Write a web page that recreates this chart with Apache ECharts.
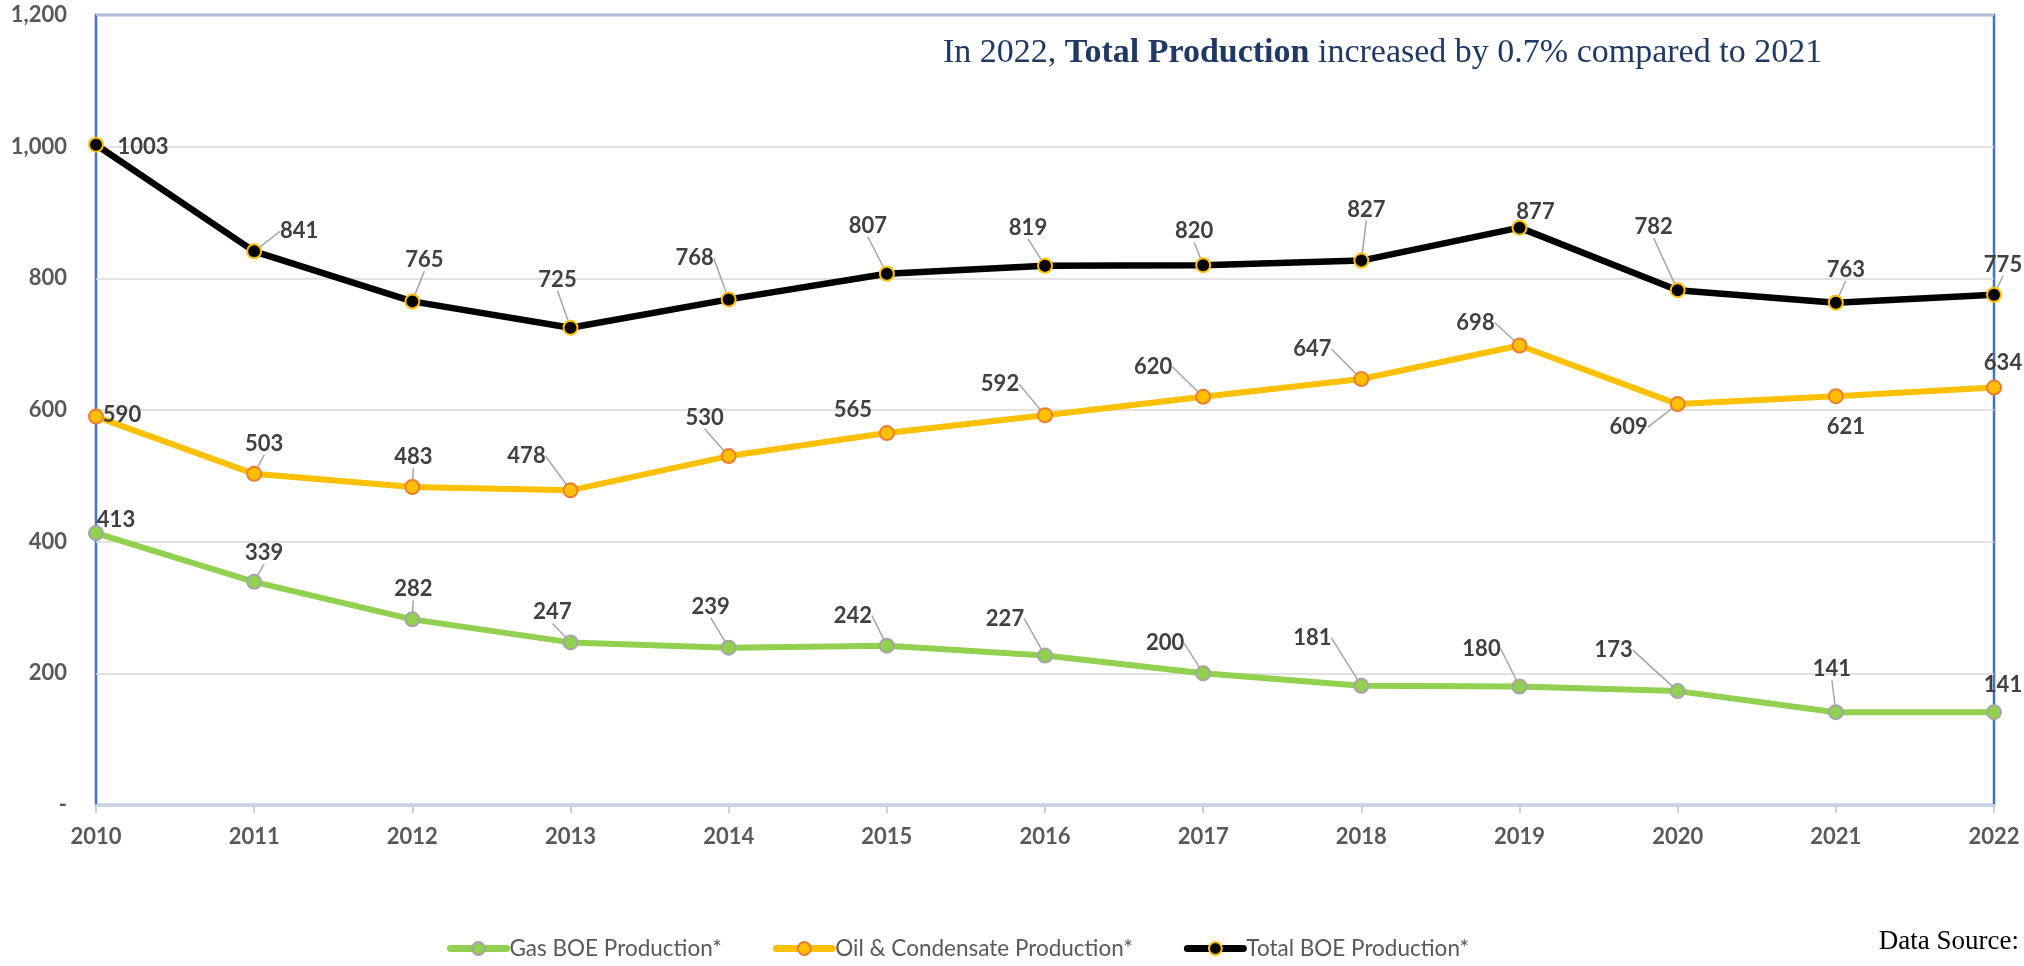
<!DOCTYPE html>
<html>
<head>
<meta charset="utf-8">
<script src="https://cdn.jsdelivr.net/npm/echarts@6/dist/echarts.min.js"></script>
<style>
  html, body { margin: 0; padding: 0; background: #fff; }
  #chart { width: 2024px; height: 966px; }
</style>
</head>
<body>
<div id="chart"></div>
<script>
// ---- data ----
const years = ['2010','2011','2012','2013','2014','2015','2016','2017','2018','2019','2020','2021','2022'];
const gasBOE = [413, 339, 282, 247, 239, 242, 227, 200, 181, 180, 173, 141, 141];
const oilCondensate = [590, 503, 483, 478, 530, 565, 592, 620, 647, 698, 609, 621, 634];
const totalBOE = [1003, 841, 765, 725, 768, 807, 819, 820, 827, 877, 782, 763, 775];
const yTicks = [0, 200, 400, 600, 800, 1000, 1200];

// ---- label placement (pixel offsets of each data label from its marker) ----
const gasLabelOffsets = [[20,-13],[10,-29],[1,-30],[-18,-30],[-18,-41],[-34,-30],[-40,-37],[-38,-30],[-49,-48],[-38,-38],[-64,-41],[-4,-43],[9,-27]];
const oilLabelOffsets = [[26,-2],[10,-30],[1,-30],[-44,-34],[-24,-38],[-34,-23],[-45,-31],[-50,-30],[-49,-30],[-44,-23],[-49,23],[10,31],[9,-25]];
const totalLabelOffsets = [[47,2],[45,-20],[12,-41],[-13,-48],[-34,-41],[-19,-48],[-17,-38],[-9,-34],[5,-51],[16,-16],[-24,-63],[10,-33],[9,-30]];
const offsets = [gasLabelOffsets, oilLabelOffsets, totalLabelOffsets];
// labels drawn without a leader line
const gasNoLeader = [0, 12];
const oilNoLeader = [0, 5, 11, 12];
const totalNoLeader = [0, 9];

const labelFont = { fontFamily: 'Lato', fontWeight: 'bold', fontSize: 22, color: '#404040' };

function makeSeries(name, values, noLeader, lineColor, fill, border, width) {
  return {
    name: name,
    type: 'line',
    data: values.map(function (v, i) {
      return { value: v, labelLine: { show: noLeader.indexOf(i) < 0 } };
    }),
    symbol: 'circle',
    symbolSize: 14,
    lineStyle: { color: lineColor, width: width },
    itemStyle: { color: fill, borderColor: border, borderWidth: 2 },
    label: Object.assign({ show: true, position: 'inside' }, labelFont),
    labelLine: { show: true, lineStyle: { color: '#A6A6A6', width: 1.5 } },
    labelLayout: function (p) {
      const o = offsets[p.seriesIndex][p.dataIndex];
      return { dx: o[0], dy: o[1] };
    },
    emphasis: { disabled: true },
    animation: false
  };
}

const chart = echarts.init(document.getElementById('chart'));
chart.setOption({
  animation: false,
  backgroundColor: '#fff',
  title: [
    {
      text: '{a|In 2022, }{b|Total Production}{a| increased by 0.7% compared to 2021}',
      left: 943, top: 33, padding: 0,
      textStyle: {
        fontWeight: 'normal',
        rich: {
          a: { fontFamily: 'Liberation Serif', fontSize: 34, fontWeight: 'normal', color: '#1F3864', lineHeight: 40 },
          b: { fontFamily: 'Liberation Serif', fontSize: 34, fontWeight: 'bold', color: '#1F3864', lineHeight: 40 }
        }
      }
    },
    {
      text: 'Data Source:',
      right: 5, top: 925, padding: 0,
      textStyle: { fontFamily: 'Liberation Serif', fontSize: 27, fontWeight: 'normal', color: '#000', lineHeight: 34 }
    }
  ],
  legend: {
    left: 442, top: 932,
    itemWidth: 56, itemHeight: 16, itemGap: 51,
    textStyle: { fontFamily: 'Lato', fontSize: 22.5, color: '#595959', padding: [0, 0, 0, -2] },
    lineStyle: { width: 7, cap: 'round' },
    data: ['Gas BOE Production*', 'Oil & Condensate Production*', 'Total BOE Production*']
  },
  grid: {
    left: 96, right: 30, top: 15, bottom: 161,
    show: true, borderColor: '#4472C4', borderWidth: 2.5, backgroundColor: 'transparent'
  },
  xAxis: {
    type: 'category',
    data: years,
    boundaryGap: false,
    axisLine: { lineStyle: { color: '#CDD4E4', width: 2.5 } },
    axisTick: { show: true, length: 8, lineStyle: { color: '#D0D0D0', width: 2 } },
    axisLabel: { margin: 21, fontFamily: 'Lato', fontWeight: 'bold', fontSize: 22, color: '#595959' },
    splitLine: { show: false }
  },
  yAxis: {
    type: 'value',
    min: yTicks[0], max: yTicks[yTicks.length - 1], interval: 200,
    axisLine: { show: false },
    axisTick: { show: false },
    axisLabel: {
      margin: 29, fontFamily: 'Lato', fontWeight: 'bold', fontSize: 22, color: '#595959',
      formatter: function (v) { return v === 0 ? '-' : v.toLocaleString('en-US'); }
    },
    splitLine: { lineStyle: { color: '#D9D9D9', width: 1.5 } }
  },
  series: [
    makeSeries('Gas BOE Production*', gasBOE, gasNoLeader, '#92D050', '#92D050', '#A5A5A5', 6),
    makeSeries('Oil & Condensate Production*', oilCondensate, oilNoLeader, '#FFC000', '#FFC000', '#ED7D31', 6),
    makeSeries('Total BOE Production*', totalBOE, totalNoLeader, '#000000', '#000000', '#FFC000', 6.5)
  ]
});
</script>
</body>
</html>
